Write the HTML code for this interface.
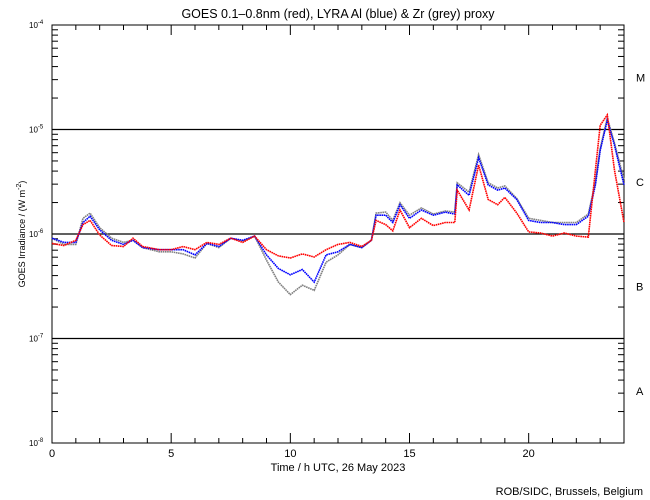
<!DOCTYPE html>
<html><head><meta charset="utf-8"><style>
body{margin:0;background:#fff;}
svg{display:block;font-family:"Liberation Sans",sans-serif;}
</style></head><body>
<svg id="chart" width="650" height="500" viewBox="0 0 650 500">
<text x="338" y="18" font-size="12.5" text-anchor="middle">GOES 0.1–0.8nm (red), LYRA Al (blue) &amp; Zr (grey) proxy</text>
<g id="axes"></g>
<g id="series"></g>
<text x="338" y="471" font-size="11" text-anchor="middle">Time / h UTC, 26 May 2023</text>
<text transform="translate(25,234) rotate(-90)" font-size="9" text-anchor="middle">GOES Irradiance / (W m<tspan dy="-4" font-size="7">-2</tspan><tspan dy="4">)</tspan></text>
<text x="643" y="495" font-size="11" text-anchor="end">ROB/SIDC, Brussels, Belgium</text>
</svg>
<script>
const times=[0,0.5,1,1.3,1.6,2,2.5,3,3.4,3.8,4.5,5,5.5,6,6.5,7,7.5,8,8.5,9,9.5,10,10.5,11,11.5,12,12.5,13,13.4,13.6,14,14.3,14.6,15,15.5,16,16.5,16.9,17,17.5,17.9,18.3,18.7,19,19.5,20,20.5,21,21.5,22,22.5,22.8,23,23.3,23.6,24];
const goesLog=[-6.09,-6.11,-6.06,-5.91,-5.87,-6.01,-6.11,-6.12,-6.04,-6.12,-6.15,-6.15,-6.12,-6.15,-6.08,-6.10,-6.04,-6.08,-6.02,-6.15,-6.21,-6.23,-6.19,-6.22,-6.15,-6.10,-6.08,-6.12,-6.06,-5.87,-5.91,-5.97,-5.77,-5.94,-5.85,-5.92,-5.89,-5.89,-5.58,-5.77,-5.34,-5.67,-5.72,-5.65,-5.80,-5.98,-5.99,-6.02,-5.99,-6.02,-6.03,-5.39,-4.96,-4.86,-5.39,-5.89];
const lyraAlLog=[-6.04,-6.08,-6.08,-5.89,-5.83,-5.96,-6.06,-6.10,-6.06,-6.13,-6.15,-6.15,-6.15,-6.20,-6.09,-6.12,-6.04,-6.06,-6.02,-6.20,-6.33,-6.39,-6.34,-6.46,-6.20,-6.17,-6.10,-6.13,-6.06,-5.82,-5.82,-5.89,-5.72,-5.85,-5.77,-5.82,-5.79,-5.81,-5.53,-5.63,-5.27,-5.53,-5.58,-5.56,-5.67,-5.87,-5.89,-5.89,-5.91,-5.91,-5.83,-5.53,-5.20,-4.91,-5.15,-5.53];
const lyraZrLog=[-6.04,-6.10,-6.10,-5.85,-5.80,-5.94,-6.04,-6.08,-6.06,-6.13,-6.17,-6.17,-6.19,-6.23,-6.09,-6.13,-6.04,-6.07,-6.02,-6.25,-6.46,-6.58,-6.49,-6.54,-6.27,-6.20,-6.10,-6.13,-6.06,-5.80,-5.79,-5.87,-5.70,-5.82,-5.75,-5.81,-5.78,-5.79,-5.51,-5.60,-5.24,-5.51,-5.56,-5.54,-5.66,-5.85,-5.87,-5.89,-5.89,-5.89,-5.81,-5.50,-5.18,-4.89,-5.13,-5.48];
const xTickLabels=[0,5,10,15,20];
const yDecades=[-4,-5,-6,-7,-8];
const flareClasses=["M","C","B","A"];

const NS="http://www.w3.org/2000/svg";
const L=52,R=624,T=25,B=443;
const xs=t=>L+t/24*(R-L);
const ys=lg=>T+(-4-lg)/4*(B-T);
const axes=document.getElementById('axes'),ser=document.getElementById('series');
function mk(tag,at,parent){const e=document.createElementNS(NS,tag);for(const k in at)e.setAttribute(k,at[k]);parent.appendChild(e);return e;}

const frame=mk('rect',{x:L,y:T,width:R-L,height:B-T,fill:'none',stroke:'#000','stroke-width':1},axes);



for(let h=0;h<=24;h++){
  const x=xs(h),len=h%5===0?10:5;
  const t1=mk('line',{x1:x,x2:x,y1:B,y2:B-len,stroke:'#000'},axes);
  
  
  const t2=mk('line',{x1:x,x2:x,y1:T,y2:T+len,stroke:'#000'},axes);
  
  
}
xTickLabels.forEach(v=>{
  const tx=mk('text',{x:xs(v),y:457,'font-size':11,'text-anchor':'middle'},axes);
  tx.textContent=v;
  
  
});
yDecades.forEach((d,i)=>{
  const y=ys(d);
  if(d<-4&&d>-8){
    const gl=mk('line',{x1:L,x2:R,y1:y,y2:y,stroke:'#000','stroke-width':1.2},axes);
    
    
  }
  const lb=mk('text',{x:29,y:y+3,'font-size':8},axes);
  lb.innerHTML='10<tspan dy="-4" font-size="6">'+d+'</tspan>';
  
  
  if(d>-8){
    for(let m=2;m<=9;m++){
      const yy=ys(d-1+Math.log10(m));
      const a=mk('line',{x1:L,x2:L+6,y1:yy,y2:yy,stroke:'#000'},axes);
      
      
      const b=mk('line',{x1:R,x2:R-6,y1:yy,y2:yy,stroke:'#000'},axes);
      
      
    }
    const cl=mk('text',{x:636,y:ys(d-0.5)+4,'font-size':11},axes);
    cl.textContent=flareClasses[i];
    
    
  }
  const mj=mk('line',{x1:L,x2:L+10,y1:y,y2:y,stroke:'#000'},axes);
  
  
});

function draw(arr,color,name){
  const pts=times.map((t,i)=>xs(t).toFixed(1)+','+ys(arr[i]).toFixed(1)).join(' ');
  const pl=mk('polyline',{points:pts,fill:'none',stroke:color,'stroke-width':1.6,'stroke-dasharray':'1.6 0.6'},ser);
  
  
}
draw(lyraZrLog,'#808080','lyra-zr-series');
draw(lyraAlLog,'#0000ff','lyra-al-series');
draw(goesLog,'#ff0000','goes-series');
</script>
</body></html>
